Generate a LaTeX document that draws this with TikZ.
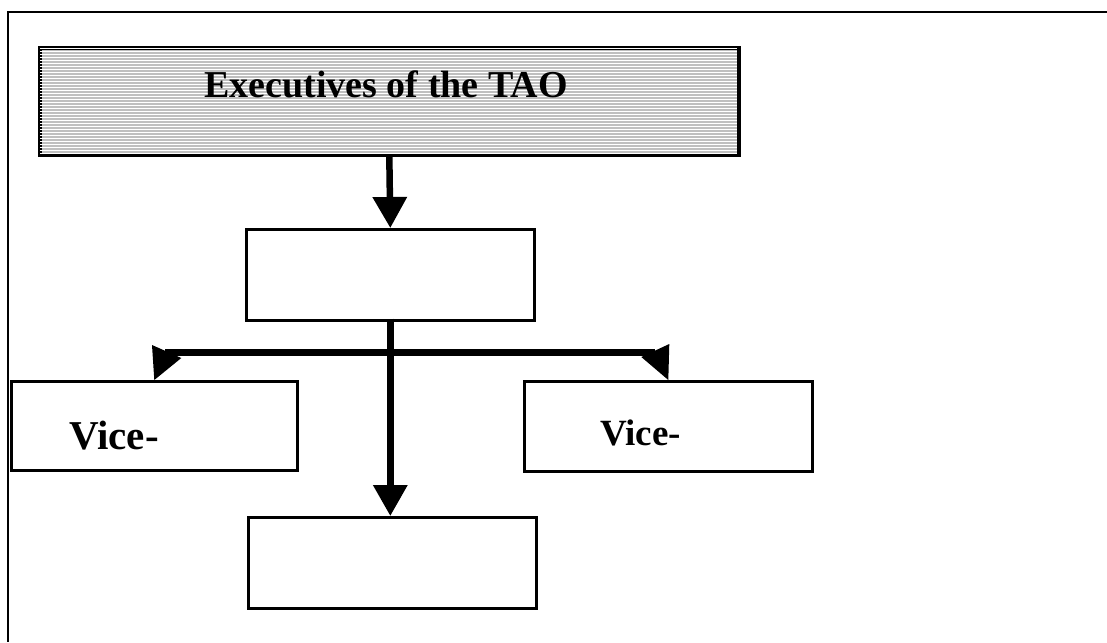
\documentclass[tikz,border=0pt]{standalone}
\usepackage{fontspec}
\setmainfont{Liberation Serif}
\usetikzlibrary{arrows.meta}
\begin{document}
\begin{tikzpicture}[x=1pt,y=-1pt,
  box/.style={draw=black, line width=2.6pt, fill=white, inner sep=0pt, anchor=north west},
  conn/.style={line width=6.5pt, draw=black},
  bigtip/.style={-{Triangle[length=31pt,width=33pt]}},
  lbl/.style={font=\bfseries, inner sep=0pt}]
\useasboundingbox (0,0) rectangle (1107,642);
% page frame (top and left edges)
\draw[line width=2.6pt] (1107,12) -- (8,12) -- (8,642);
% striped title box
\node[box, fill=black!25, minimum width=698pt, minimum height=106pt] (exec) at (39,47) {};
\begin{scope}
  \clip (exec.north west) rectangle (exec.south east);
  \foreach \k in {0,...,36} {
    \draw[white, line width=0.9pt] (39,48.5+3*\k) -- (737,48.5+3*\k);
  }
\end{scope}
\draw[line width=2.6pt] (exec.north west) rectangle (exec.south east);
\node[lbl, font=\bfseries\fontsize{38}{40}\selectfont, anchor=base] (title) at (386,97) {Executives of the TAO};
% plain boxes
\node[box, minimum width=288pt, minimum height=91pt] (mid) at (245,228) {};
\node[box, minimum width=286pt, minimum height=89pt] (vl) at (10,380) {};
\node[box, minimum width=288pt, minimum height=90pt] (vr) at (523,380) {};
\node[box, minimum width=288pt, minimum height=91pt] (low) at (247,516) {};
\node[lbl, font=\bfseries\fontsize{41}{43}\selectfont, anchor=base west] (vlt) at (69,449) {Vice-};
\node[lbl, font=\bfseries\fontsize{37}{39}\selectfont, anchor=base west] (vrt) at (600,445) {Vice-};
% connectors
\draw[conn, bigtip] (exec.south) -- (mid.north);
\draw[conn, bigtip] ([yshift=3pt]mid.south) -- (mid.south |- low.north);
\coordinate (barL) at (165,352.5);
\coordinate (barR) at (655,352.5);
\draw[conn] (barL) -- (barR);
\fill (vl.north) -- ++(-2.3,-35) -- ++(29.3,13) -- cycle;
\fill (vr.north) -- ++(1,-36) -- ++(-28,13) -- cycle;
\end{tikzpicture}
\end{document}
